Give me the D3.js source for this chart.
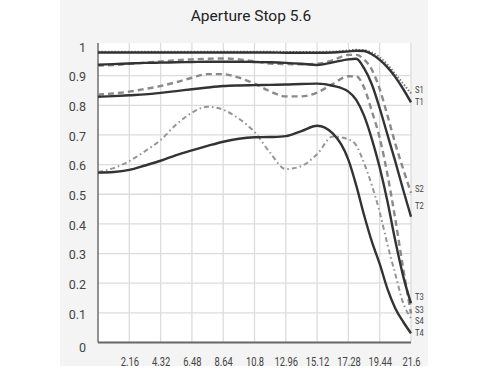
<!DOCTYPE html>
<html>
<head>
<meta charset="utf-8">
<script src="https://cdn.jsdelivr.net/npm/d3@7"></script>
<style>
  html, body { margin: 0; padding: 0; background: #ffffff; }
  svg { display: block; font-family: Roboto, "Noto Sans", sans-serif; }
</style>
</head>
<body>
<svg id="chart" width="490" height="368"></svg>
<script>
// ---- data ----
const chartTitle = "Aperture Stop 5.6";
const xSamples = [0, 1.08, 2.16, 3.24, 4.32, 5.4, 6.48, 7.56, 8.64, 9.72, 10.8, 11.88, 12.96, 14.04, 15.12, 16.2, 17.28, 17.82, 18.36, 18.9, 19.44, 19.98, 20.52, 21.06, 21.6];
const xTickValues = [2.16, 4.32, 6.48, 8.64, 10.8, 12.96, 15.12, 17.28, 19.44, 21.6];
const xTickLabels = ["2.16", "4.32", "6.48", "8.64", "10.8", "12.96", "15.12", "17.28", "19.44", "21.6"];
const yTickValues = [0, 0.1, 0.2, 0.3, 0.4, 0.5, 0.6, 0.7, 0.8, 0.9, 1];
const yTickLabels = ["0", "0.1", "0.2", "0.3", "0.4", "0.5", "0.6", "0.7", "0.8", "0.9", "1"];

const s1Values = [0.981, 0.981, 0.981, 0.981, 0.981, 0.981, 0.981, 0.981, 0.981, 0.981, 0.981, 0.981, 0.980, 0.980, 0.980, 0.981, 0.985, 0.987, 0.986, 0.978, 0.962, 0.937, 0.905, 0.873, 0.840];
const t1Values = [0.978, 0.978, 0.978, 0.978, 0.978, 0.978, 0.978, 0.978, 0.978, 0.978, 0.978, 0.978, 0.977, 0.977, 0.977, 0.978, 0.982, 0.984, 0.983, 0.972, 0.953, 0.928, 0.895, 0.855, 0.810];
const s2Values = [0.934, 0.936, 0.940, 0.944, 0.948, 0.952, 0.955, 0.957, 0.958, 0.955, 0.948, 0.941, 0.939, 0.938, 0.940, 0.952, 0.970, 0.970, 0.955, 0.920, 0.855, 0.765, 0.670, 0.585, 0.505];
const t2Values = [0.937, 0.939, 0.941, 0.943, 0.944, 0.945, 0.946, 0.947, 0.947, 0.947, 0.946, 0.945, 0.943, 0.940, 0.936, 0.945, 0.955, 0.957, 0.925, 0.870, 0.790, 0.700, 0.610, 0.515, 0.424];
const t3Values = [0.829, 0.831, 0.834, 0.837, 0.842, 0.848, 0.854, 0.860, 0.865, 0.867, 0.868, 0.869, 0.870, 0.872, 0.873, 0.866, 0.846, 0.818, 0.765, 0.686, 0.590, 0.475, 0.342, 0.224, 0.132];
const s3Values = [0.836, 0.840, 0.846, 0.855, 0.865, 0.878, 0.893, 0.905, 0.905, 0.893, 0.873, 0.847, 0.830, 0.830, 0.843, 0.872, 0.898, 0.898, 0.860, 0.780, 0.690, 0.565, 0.415, 0.250, 0.098];
const s4Values = [0.575, 0.588, 0.612, 0.645, 0.683, 0.735, 0.775, 0.795, 0.785, 0.755, 0.710, 0.640, 0.585, 0.595, 0.635, 0.695, 0.685, 0.665, 0.605, 0.530, 0.440, 0.330, 0.230, 0.133, 0.082];
const t4Values = [0.573, 0.575, 0.582, 0.597, 0.613, 0.632, 0.648, 0.663, 0.677, 0.687, 0.692, 0.693, 0.696, 0.713, 0.731, 0.705, 0.616, 0.530, 0.430, 0.340, 0.265, 0.180, 0.115, 0.070, 0.031];

const seriesNames = ["S1", "T1", "S2", "T2", "T3", "S3", "S4", "T4"];
const seriesData = [s1Values, t1Values, s2Values, t2Values, t3Values, s3Values, s4Values, t4Values];
const seriesStyle = ["dotted", "solid", "dashed", "solid", "solid", "dashed", "dashdot", "solid"];
const labelY = [90, 102, 189, 206, 297, 309.5, 321, 332.5]; // label centre pixel positions

// ---- layout ----
const svg = d3.select("#chart");
const x = d3.scaleLinear().domain([0, 21.6]).range([98, 411]);
const y = d3.scaleLinear().domain([0, 1]).range([342.5, 46]);
const plotTop = 43;

const styles = {
  solid:   { stroke: "#333333", width: 2.4, dash: null },
  dashed:  { stroke: "#8a8a8a", width: 2.4, dash: "6,4" },
  dotted:  { stroke: "#7a7a7a", width: 2, dash: "1.5,1.8" },
  dashdot: { stroke: "#959595", width: 2, dash: "5,3,1.6,3" }
};

// grey panel
svg.append("rect").attr("x", 60).attr("y", 0).attr("width", 368).attr("height", 366).attr("fill", "#f4f4f4");
// white plot area
svg.append("rect").attr("x", x(0)).attr("y", plotTop).attr("width", x(21.6) - x(0)).attr("height", y(0) - plotTop).attr("fill", "#ffffff");

// title
svg.append("text").attr("x", 251).attr("y", 21).attr("text-anchor", "middle")
  .attr("font-size", 15.5).attr("fill", "#222").text(chartTitle);

// grid
const grid = svg.append("g");
grid.selectAll("line.v").data(xTickValues).join("line")
  .attr("x1", d => x(d)).attr("x2", d => x(d)).attr("y1", plotTop).attr("y2", y(0))
  .attr("stroke", "#dcdcdc").attr("stroke-width", 1.3);
grid.selectAll("line.h").data(yTickValues.filter(v => v > 0 && v < 1)).join("line")
  .attr("x1", x(0)).attr("x2", x(21.6)).attr("y1", d => y(d)).attr("y2", d => y(d))
  .attr("stroke", "#dcdcdc").attr("stroke-width", 1.3);

// axes
const xAxis = d3.axisBottom(x).tickValues(xTickValues).tickFormat((d, i) => xTickLabels[i]).tickSize(0).tickPadding(0);
const gx = svg.append("g").attr("transform", `translate(0,${y(0)})`).call(xAxis);
gx.select(".domain").remove();
gx.selectAll("text").attr("font-family", "Roboto, sans-serif").attr("font-size", 12).attr("fill", "#444")
  .attr("dy", null).attr("y", 0).attr("transform", "translate(0,23.5) scale(0.78,1)");

const yAxis = d3.axisLeft(y).tickValues(yTickValues).tickFormat((d, i) => yTickLabels[i]).tickSize(0).tickPadding(0);
const gy = svg.append("g").attr("transform", `translate(86,0)`).call(yAxis);
gy.select(".domain").remove();
gy.selectAll("text").attr("font-family", "Roboto, sans-serif").attr("font-size", 12.5).attr("fill", "#444")
  .attr("x", 0).attr("dy", (d) => d === 0 ? "0.75em" : "0.42em");

svg.append("line").attr("x1", x(0)).attr("x2", x(0)).attr("y1", plotTop).attr("y2", y(0))
  .attr("stroke", "#777").attr("stroke-width", 1.6);
svg.append("line").attr("x1", x(0)).attr("x2", x(21.6)).attr("y1", y(0)).attr("y2", y(0))
  .attr("stroke", "#666").attr("stroke-width", 1.8);

// lines
const line = d3.line().x((d, i) => x(xSamples[i])).y(d => y(d)).curve(d3.curveMonotoneX);
const order = [6, 5, 2, 0, 4, 3, 1, 7];
order.forEach(k => {
  const st = styles[seriesStyle[k]];
  svg.append("path").datum(seriesData[k]).attr("d", line)
    .attr("fill", "none").attr("stroke", st.stroke).attr("stroke-width", st.width)
    .attr("stroke-dasharray", st.dash).attr("stroke-linecap", "butt");
});

// series labels
svg.selectAll("text.lbl").data(seriesNames).join("text").attr("class", "lbl")
  .attr("transform", (d, i) => `translate(415,${labelY[i]}) scale(0.8,1)`)
  .attr("dy", "0.35em").attr("font-size", 9.5).attr("fill", "#444").text(d => d);
</script>
</body>
</html>
